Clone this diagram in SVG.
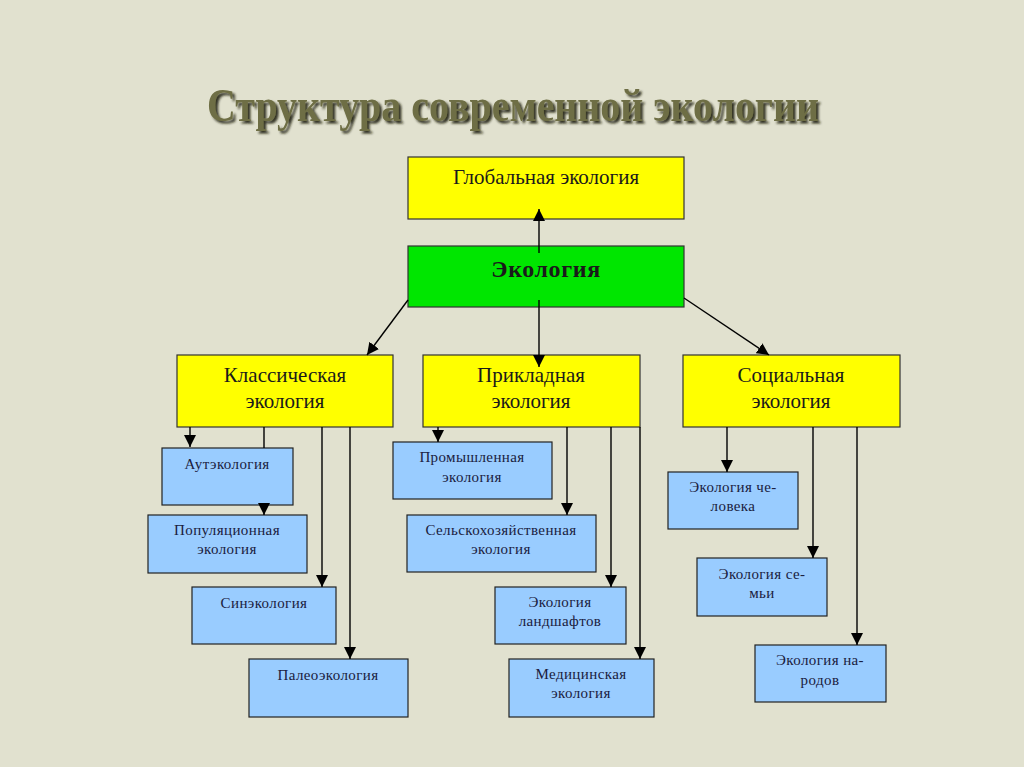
<svg xmlns="http://www.w3.org/2000/svg" width="1024" height="767" viewBox="0 0 1024 767">
<defs>
<marker id="ah" viewBox="0 0 10 10" refX="10" refY="5" markerWidth="12" markerHeight="12" markerUnits="userSpaceOnUse" orient="auto"><path d="M0,0 L10,5 L0,10 z" fill="#000"/></marker>
<filter id="sh" x="-5%" y="-20%" width="110%" height="150%"><feDropShadow dx="2.5" dy="2.5" stdDeviation="0.8" flood-color="#1f1f10" flood-opacity="0.9"/></filter>
<style>
.y{fill:#ffff00;stroke:#333;stroke-width:1.2}
.g{fill:#00e600;stroke:#333;stroke-width:1.2}
.b{fill:#99ccff;stroke:#222;stroke-width:1.2}
.ty{font-family:"Liberation Serif",serif;font-size:21px;fill:#1a1a1a;text-anchor:middle}
.tb{font-family:"Liberation Serif",serif;font-size:15px;letter-spacing:0.4px;fill:#1a2040;text-anchor:middle}
.c{stroke:#000;stroke-width:1.4;fill:none;marker-end:url(#ah)}
.tt{font-family:"Liberation Serif",serif;font-weight:bold;font-size:47px;text-anchor:middle}
</style>
</defs>
<rect width="1024" height="767" fill="#e1e1cf"/>
<text class="tt" x="513" y="121" fill="#6e6e44" filter="url(#sh)" textLength="612" lengthAdjust="spacingAndGlyphs">Структура современной экологии</text>
<g id="global"><rect class="y" x="408" y="157" width="276" height="62"/><text class="ty" x="546" y="184">Глобальная экология</text></g>
<g id="ecology"><rect class="g" x="408" y="246" width="276" height="61"/><text x="546" y="277" font-family="Liberation Serif,serif" font-weight="bold" font-size="24" letter-spacing="0.6" text-anchor="middle" fill="#1a1a1a">Экология</text></g>
<g id="classic"><rect class="y" x="177" y="355" width="216" height="72"/><text class="ty" x="285" y="382">Классическая</text><text class="ty" x="285" y="408">экология</text></g>
<g id="applied"><rect class="y" x="423" y="355" width="217" height="72"/><text class="ty" x="531" y="382">Прикладная</text><text class="ty" x="531" y="408">экология</text></g>
<g id="social"><rect class="y" x="683" y="355" width="217" height="72"/><text class="ty" x="791" y="382">Социальная</text><text class="ty" x="791" y="408">экология</text></g>
<g id="aut"><rect class="b" x="162" y="448" width="131" height="57"/><text class="tb" x="227" y="469">Аутэкология</text></g>
<g id="pop"><rect class="b" x="148" y="515" width="159" height="58"/><text class="tb" x="227" y="535">Популяционная</text><text class="tb" x="227" y="554">экология</text></g>
<g id="syn"><rect class="b" x="192" y="587" width="144" height="57"/><text class="tb" x="264" y="608">Синэкология</text></g>
<g id="paleo"><rect class="b" x="249" y="659" width="159" height="58"/><text class="tb" x="328" y="680">Палеоэкология</text></g>
<g id="indust"><rect class="b" x="393" y="442" width="159" height="57"/><text class="tb" x="472" y="462">Промышленная</text><text class="tb" x="472" y="482">экология</text></g>
<g id="agri"><rect class="b" x="407" y="515" width="189" height="57"/><text class="tb" x="501" y="535">Сельскохозяйственная</text><text class="tb" x="501" y="554">экология</text></g>
<g id="land"><rect class="b" x="495" y="587" width="131" height="57"/><text class="tb" x="560" y="607">Экология</text><text class="tb" x="560" y="626">ландшафтов</text></g>
<g id="med"><rect class="b" x="509" y="659" width="145" height="58"/><text class="tb" x="581" y="679">Медицинская</text><text class="tb" x="581" y="698">экология</text></g>
<g id="human"><rect class="b" x="668" y="472" width="130" height="57"/><text class="tb" x="733" y="492">Экология че-</text><text class="tb" x="733" y="511">ловека</text></g>
<g id="family"><rect class="b" x="697" y="558" width="130" height="58"/><text class="tb" x="762" y="579">Экология се-</text><text class="tb" x="762" y="598">мьи</text></g>
<g id="peoples"><rect class="b" x="755" y="645" width="131" height="57"/><text class="tb" x="820" y="665">Экология на-</text><text class="tb" x="820" y="685">родов</text></g>
<g id="connectors">
<line class="c" x1="539" y1="253" x2="539" y2="209"/>
<line class="c" x1="539" y1="300" x2="539" y2="367"/>
<line class="c" x1="408" y1="300" x2="367" y2="355"/>
<line class="c" x1="684" y1="298" x2="769" y2="355"/>
<line class="c" x1="190" y1="427" x2="190" y2="447"/>
<path class="c" d="M264,427 V448 M264,505 V515"/>
<line class="c" x1="322" y1="427" x2="322" y2="587"/>
<line class="c" x1="350" y1="427" x2="350" y2="659"/>
<line class="c" x1="438" y1="427" x2="438" y2="442"/>
<line class="c" x1="567" y1="427" x2="567" y2="515"/>
<line class="c" x1="611" y1="427" x2="611" y2="587"/>
<line class="c" x1="640" y1="427" x2="640" y2="659"/>
<line class="c" x1="727" y1="427" x2="727" y2="472"/>
<line class="c" x1="813" y1="427" x2="813" y2="558"/>
<line class="c" x1="857" y1="427" x2="857" y2="645"/>
</g>
</svg>
